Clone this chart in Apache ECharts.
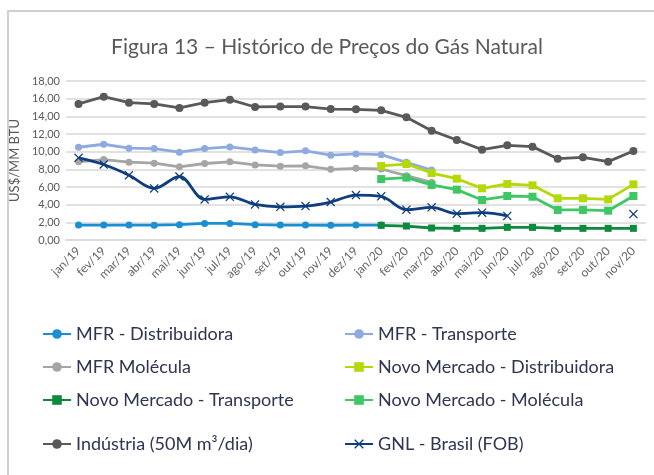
<!DOCTYPE html>
<html>
<head>
<meta charset="utf-8">
<script src="https://cdn.jsdelivr.net/npm/echarts@6/dist/echarts.min.js"></script>
<style>
html,body{margin:0;padding:0;background:#fff;}
#chart{width:654px;height:475px;}
</style>
</head>
<body>
<div id="chart"></div>
<script>
var months = ['jan/19','fev/19','mar/19','abr/19','mai/19','jun/19','jul/19','ago/19','set/19','out/19','nov/19','dez/19',
	'jan/20','fev/20','mar/20','abr/20','mai/20','jun/20','jul/20','ago/20','set/20','out/20','nov/20'];
var yTicks = [0,2,4,6,8,10,12,14,16,18];

var mfrDistribuidora = [1.69,1.69,1.69,1.68,1.73,1.88,1.88,1.73,1.69,1.69,1.67,1.69,1.69,null,null,null,null,null,null,null,null,null,null];
var mfrTransporte = [10.5,10.84,10.39,10.35,9.94,10.35,10.54,10.2,9.9,10.09,9.6,9.74,9.66,8.79,7.92,null,null,null,null,null,null,null,null];
var mfrMolecula = [8.85,9.11,8.81,8.7,8.28,8.66,8.85,8.5,8.36,8.4,8.0,8.11,8.04,7.28,6.53,null,null,null,null,null,null,null,null];
var nmDistribuidora = [null,null,null,null,null,null,null,null,null,null,null,null,8.38,8.6,7.58,6.94,5.85,6.34,6.19,4.72,4.72,4.6,6.3];
var nmTransporte = [null,null,null,null,null,null,null,null,null,null,null,null,1.66,1.58,1.36,1.32,1.32,1.43,1.43,1.32,1.32,1.32,1.32];
var nmMolecula = [null,null,null,null,null,null,null,null,null,null,null,null,6.9,7.06,6.23,5.7,4.53,4.98,4.9,3.4,3.4,3.32,4.98];
var industria = [15.4,16.23,15.55,15.4,14.95,15.55,15.89,15.06,15.1,15.1,14.82,14.79,14.68,13.89,12.38,11.32,10.23,10.72,10.57,9.21,9.36,8.87,10.08];
var gnl = [9.3,8.55,7.34,5.84,7.19,4.59,4.89,4.03,3.76,3.84,4.3,5.09,4.94,3.43,3.7,2.98,3.09,2.72,null,null,null,null,2.94];

var chart = echarts.init(document.getElementById('chart'));
var xMark = 'path://M1,0L5,4L9,0L10,1L6,5L10,9L9,10L5,6L1,10L0,9L4,5L0,1Z';
var fontFam = 'Lato, "Noto Sans", sans-serif';

function line(name, data, color, symbol, size, smooth){
	return {
		name: name,
		type: 'line',
		data: data,
		smooth: smooth ? 0.35 : false,
		symbol: symbol,
		symbolSize: size,
		showAllSymbol: true,
		connectNulls: false,
		lineStyle: {color: color, width: 2.8},
		itemStyle: {color: color},
		emphasis: {disabled: true}
	};
}

var legendText = {color: '#2f3552', fontSize: 18, fontFamily: fontFam};
function leg(left, top, names){
	return {
		left: left, top: top, orient: 'vertical', itemWidth: 28, itemHeight: 12, itemGap: 15,
		textStyle: legendText, data: names
	};
}

chart.setOption({
	animation: false,
	graphic: [{
		type: 'rect',
		shape: {x: 8, y: 11, width: 700, height: 520},
		style: {fill: 'none', stroke: '#d0d0d0', lineWidth: 2}
	}],
	title: {
		text: 'Figura 13 – Histórico de Preços do Gás Natural',
		left: 'center',
		top: 32,
		textStyle: {color: '#595959', fontSize: 21, fontWeight: 'normal', fontFamily: fontFam}
	},
	legend: [
		leg(37, 320, ['MFR - Distribuidora','MFR Molécula','Novo Mercado - Transporte']),
		leg(339, 320, ['MFR - Transporte','Novo Mercado - Distribuidora','Novo Mercado - Molécula']),
		leg(37, 430, ['Indústria (50M m³/dia)']),
		leg(339, 430, ['GNL - Brasil (FOB)'])
	],
	grid: {left: 60, right: 8, top: 81, bottom: 235},
	xAxis: {
		type: 'category',
		data: months,
		boundaryGap: true,
		axisLine: {lineStyle: {color: '#d9d9d9', width: 1.5}},
		axisTick: {show: false},
		axisLabel: {rotate: 45, color: '#666666', fontSize: 12, fontFamily: fontFam, interval: 0, margin: 9}
	},
	yAxis: {
		type: 'value',
		min: yTicks[0],
		max: yTicks[yTicks.length - 1],
		interval: 2,
		name: 'US$/MM BTU',
		nameLocation: 'middle',
		nameGap: 36,
		nameTextStyle: {color: '#595959', fontSize: 13, fontFamily: fontFam},
		axisLine: {show: false},
		axisTick: {show: false},
		splitLine: {lineStyle: {color: '#d9d9d9', width: 1.5}},
		axisLabel: {
			color: '#595959', fontSize: 11, fontFamily: fontFam, margin: 6,
			formatter: function(v){ return v.toFixed(2).replace('.', ','); }
		}
	},
	series: [
		line('MFR - Distribuidora', mfrDistribuidora, '#1a8fd2', 'circle', 7),
		line('MFR - Transporte', mfrTransporte, '#8eaadf', 'circle', 7),
		line('MFR Molécula', mfrMolecula, '#a5a5a5', 'circle', 7),
		line('Novo Mercado - Distribuidora', nmDistribuidora, '#b4d90a', 'rect', 8),
		line('Novo Mercado - Transporte', nmTransporte, '#0c8a3e', 'rect', 7),
		line('Novo Mercado - Molécula', nmMolecula, '#3fc766', 'rect', 8),
		line('Indústria (50M m³/dia)', industria, '#595959', 'circle', 8),
		line('GNL - Brasil (FOB)', gnl, '#0f3e7e', xMark, 9, true)
	]
});
</script>
</body>
</html>
